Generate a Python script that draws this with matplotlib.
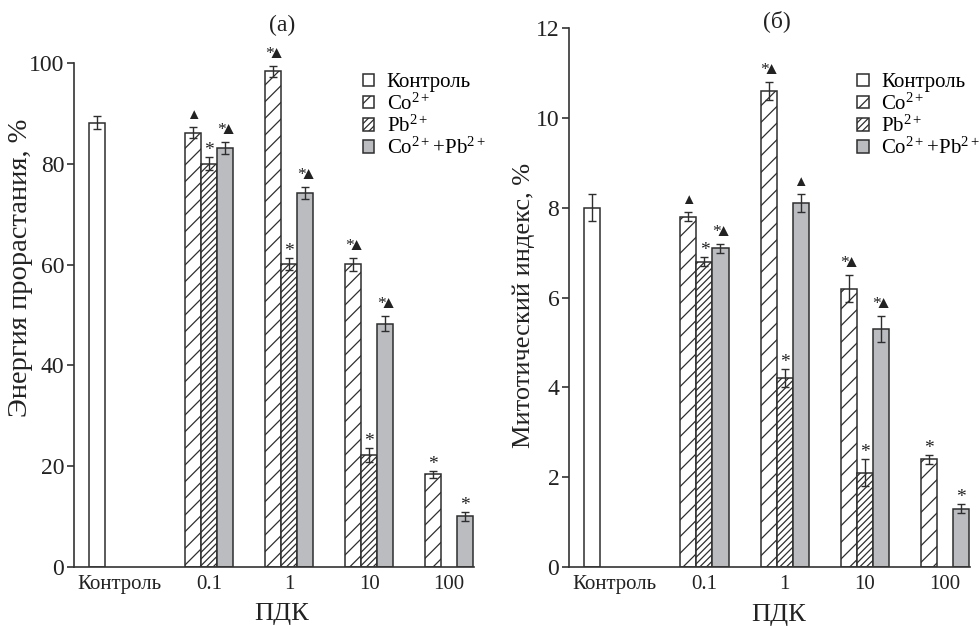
import matplotlib
matplotlib.use("Agg")
import matplotlib.pyplot as plt
import numpy as np

plt.rcParams['font.family'] = ['Liberation Serif', 'DejaVu Serif']
plt.rcParams['mathtext.fontset'] = 'custom'
plt.rcParams['mathtext.rm'] = 'Liberation Serif'
plt.rcParams['mathtext.it'] = 'Liberation Serif:italic'
plt.rcParams['hatch.linewidth'] = 0.9

# данные
groups = ['0.1', '1', '10', '100']
series = ['Контроль', r'$\mathregular{Co^{2+}}$', r'$\mathregular{Pb^{2+}}$',
          r'$\mathregular{Co^{2+}\!+\!Pb^{2+}}$']

# (а) энергия прорастания
control_a, control_a_err = 88.2, 1.3
co_a = [86.2, 98.4, 60.1, 18.4]
co_a_err = [1.1, 1.1, 1.3, 0.7]
pb_a = [80.0, 60.2, 22.3, np.nan]
pb_a_err = [1.3, 1.2, 1.4, np.nan]
copb_a = [83.2, 74.3, 48.3, 10.1]
copb_a_err = [1.2, 1.2, 1.5, 0.9]
marks_co_a = ['▲', '*▲', '*▲', '*']
marks_pb_a = ['*', '*', '*', '']
marks_copb_a = ['*▲', '*▲', '*▲', '*']

# (б) митотический индекс
control_b, control_b_err = 8.0, 0.3
co_b = [7.8, 10.6, 6.2, 2.4]
co_b_err = [0.1, 0.2, 0.3, 0.1]
pb_b = [6.8, 4.2, 2.1, np.nan]
pb_b_err = [0.1, 0.2, 0.3, np.nan]
copb_b = [7.1, 8.1, 5.3, 1.3]
copb_b_err = [0.1, 0.2, 0.3, 0.1]
marks_co_b = ['▲', '*▲', '*▲', '*']
marks_pb_b = ['*', '*', '*', '']
marks_copb_b = ['*▲', '▲', '*▲', '*']

EDGE = '#2e2e2e'
GRAY = '#bbbcc0'
centers = np.array([7, 12, 17, 22])  # позиции групп
W = 1.0


def put_marks(ax, xs, tops, marks):
    kw = dict(ha='center', va='baseline', color='#222',
              textcoords='offset points', annotation_clip=False)
    for x, t, m in zip(xs, tops, marks):
        if not m or np.isnan(t):
            continue
        if m == '*':
            ax.annotate('*', (x, t), xytext=(0, 1.5), fontsize=14, **kw)
        elif m == '▲':
            ax.annotate('▲', (x, t), xytext=(0, 6), fontsize=10.5, **kw)
        else:
            ax.annotate(r'$\mathregular{*\!\!\!▲}$', (x, t), xytext=(0.5, 5.5),
                        fontsize=12.5, **kw)


def panel(ax, ctrl, ctrl_err, co, co_err, pb, pb_err, copb, copb_err,
          m_co, m_pb, m_copb, ymax, ystep, ylabel, ylab_size):
    ekw = dict(ecolor=EDGE, elinewidth=1.0, capsize=3, capthick=1.0)
    ax.bar([0], [ctrl], W, yerr=[ctrl_err], color='white', edgecolor=EDGE,
           linewidth=1.1, error_kw=ekw, label=series[0])
    ax.bar(centers - W, co, W, yerr=co_err, color='white', edgecolor=EDGE,
           hatch='//', linewidth=1.1, error_kw=ekw, label=series[1])
    ax.bar(centers, pb, W, yerr=pb_err, color='white', edgecolor=EDGE,
           hatch='/////', linewidth=1.1, error_kw=ekw, label=series[2])
    ax.bar(centers + W, copb, W, yerr=copb_err, color=GRAY, edgecolor=EDGE,
           linewidth=1.1, error_kw=ekw, label=series[3])

    put_marks(ax, centers - W, np.array(co) + np.array(co_err), m_co)
    put_marks(ax, centers, np.array(pb) + np.array(pb_err), m_pb)
    put_marks(ax, centers + W, np.array(copb) + np.array(copb_err), m_copb)

    ax.set_xlim(-1.45, 23.55)
    ax.set_ylim(0, ymax)
    ax.set_yticks(np.arange(0, ymax + 0.01, ystep))
    ax.set_xticks([1.4] + list(centers))
    ax.set_xticklabels(['Контроль'] + groups)
    for lab in ax.get_xticklabels():
        lab.set_fontsize(15)
    ax.tick_params(axis='x', length=0, pad=6, colors='#222')
    ax.tick_params(axis='y', direction='out', length=5, width=1.1, pad=2,
                   labelsize=17, colors='#222')
    for s in ['top', 'right']:
        ax.spines[s].set_visible(False)
    for s in ['left', 'bottom']:
        ax.spines[s].set_linewidth(1.2)
        ax.spines[s].set_color('#333')
    ax.set_ylabel(ylabel, fontsize=ylab_size, color='#222')
    ax.set_xlabel('ПДК', fontsize=19, color='#222')


fig = plt.figure(figsize=(9.8, 6.26), dpi=100)
ax1 = fig.add_axes([0.0755, 0.0942, 0.408, 0.805])
ax2 = fig.add_axes([0.5806, 0.0942, 0.409, 0.861])

panel(ax1, control_a, control_a_err, co_a, co_a_err, pb_a, pb_a_err,
      copb_a, copb_a_err, marks_co_a, marks_pb_a, marks_copb_a,
      100, 20, 'Энергия прорастания, %', 20.5)
panel(ax2, control_b, control_b_err, co_b, co_b_err, pb_b, pb_b_err,
      copb_b, copb_b_err, marks_co_b, marks_pb_b, marks_copb_b,
      12, 2, 'Митотический индекс, %', 19)

ax1.yaxis.set_label_coords(-0.1025, 0.593)
ax2.yaxis.set_label_coords(-0.0855, 0.486)
ax1.xaxis.set_label_coords(0.519, -0.072)
ax2.xaxis.set_label_coords(0.523, -0.068)

leg_kw = dict(loc='upper left', frameon=False, fontsize=15, borderpad=0,
              handlelength=0.55, handleheight=0.55, handletextpad=0.6,
              labelspacing=0.05, borderaxespad=0)
ax1.legend(bbox_to_anchor=(0.722, 0.98), **leg_kw)
ax2.legend(bbox_to_anchor=(0.719, 0.916), **leg_kw)

fig.text(282 / 980, 1 - 25 / 626, '(а)', ha='center', va='center', fontsize=17, color='#222')
fig.text(777 / 980, 1 - 21 / 626, '(б)', ha='center', va='center', fontsize=17, color='#222')

fig.savefig('out.png', dpi=100)
